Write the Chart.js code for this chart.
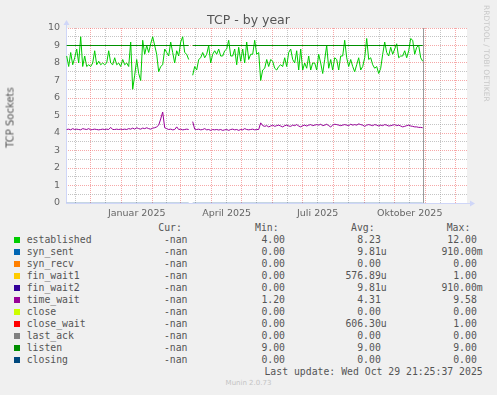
<!DOCTYPE html>
<html>
<head>
<meta charset="utf-8">
<script src="https://cdn.jsdelivr.net/npm/chart.js@4/dist/chart.umd.min.js"></script>
<style>
body { margin: 0; background: #f0f0f0; }
#wrap { position: relative; width: 497px; height: 395px; background: #f0f0f0; overflow: hidden; font-family: "DejaVu Sans"; }
#myChart { position: absolute; left: 0; top: 0; }
.t { position: absolute; white-space: pre; }
.mono { font-family: "DejaVu Sans Mono"; font-size: 9.8px; line-height: 12px; color: #555; }
.box { position: absolute; width: 6px; height: 6px; }
</style>
</head>
<body>
<div id="wrap">
  <canvas id="myChart" width="497" height="220"></canvas>
  <div class="t" id="title" style="left:0;width:497px;text-align:center;top:12px;font-size:12.5px;color:#555;">TCP - by year</div>
  <div class="t" style="left:-25px;top:112px;width:70px;text-align:center;font-size:10px;color:#555;transform:rotate(-90deg);">TCP Sockets</div>
  <div class="t" style="left:482px;top:5px;font-size:7.5px;color:#c8c8c8;writing-mode:vertical-rl;">RRDTOOL / TOBI OETIKER</div>
  <div id="legend"></div>
  <div class="t" style="left:0;width:497px;text-align:center;top:379px;font-size:7px;color:#c4c4c4;">Munin 2.0.73</div>
</div>
<script>
// Tage relativ zum 1. Jan 2025, ein Wert alle 2 Tage ab 7. Nov 2024
var firstDay = -55;
var dayStep = 2;

var established = [
  8.4, 7.8, 8.6, 7.9, 8.3, 8.8, 8.0, 9.5, 7.8, 8.4,
  7.8, 7.9, 7.8, 8.0, 8.7, 7.9, 8.1, 7.9, 8.0, 7.9,
  8.0, 8.7, 8.0, 7.9, 8.3, 7.9, 8.0, 7.8, 8.2, 7.9,
  8.0, 7.8, 9.2, 6.5, 7.3, 8.2, 7.4, 7.0, 9.3, 8.5,
  9.0, 8.6, 9.1, 9.5, 9.0, 8.5, 7.5, 7.8, 7.9, 8.8,
  8.6, 8.4, 9.2, 8.6, 8.0, 8.7, 8.4, 9.2, 9.5, 8.6,
  8.5, 8.2, null,
  7.3, 7.8, 7.6, 8.2, 8.3, 8.6, 8.3, 8.5, 9.0, 8.0,
  8.5, 8.7, 8.5, 8.8, 8.4, 8.4, 8.7, 8.8, 9.3, 8.4,
  8.4, 8.8, 7.9, 8.9, 8.1, 8.8, 8.0, 9.2, 8.2, 8.5,
  8.5, 9.3, 8.5, 8.6, 7.0, 7.6, 7.7, 8.2, 7.8, 8.2,
  8.1, 7.7, 7.6, 7.8, 7.9, 7.8, 8.3, 7.8, 8.6, 8.8,
  8.2, 8.0, 8.7, 7.6, 8.8, 7.6, 8.0, 7.7, 8.4, 7.6,
  8.0, 8.0, 7.6, 8.5, 8.0, 7.4, 8.2, 9.0, 7.7, 8.2,
  7.6, 8.3, 8.2, 7.6, 8.4, 8.4, 9.3, 8.3, 7.8, 8.2,
  7.8, 7.5, 7.9, 8.3, 7.6, 7.8, 8.3, 9.4, 8.2, 8.3,
  7.9, 7.7, 7.8, 7.4, 7.7, 8.5, 9.2, 8.6, 8.4, 8.9,
  8.5, 8.8, 9.1, 8.3, 8.4, 8.4, 8.7, 8.3, 8.7, 9.4,
  9.3, 8.5, 8.9, 9.0, 8.3, 8.1
];

var timeWait = [
  4.2, 4.22, 4.18, 4.25, 4.2, 4.22, 4.2, 4.18, 4.25, 4.22,
  4.2, 4.25, 4.18, 4.2, 4.22, 4.2, 4.18, 4.2, 4.22, 4.2,
  4.22, 4.2,
  4.32, 4.2, 4.2, 4.22, 4.2, 4.22, 4.2, 4.22, 4.2, 4.25,
  4.22, 4.28, 4.22, 4.3, 4.25, 4.22, 4.28, 4.25, 4.3, 4.25,
  4.22, 4.28, 4.3, 4.35, 4.45, 4.8, 5.2, 4.3, 4.25, 4.2,
  4.22, 4.18, 4.2, 4.35, 4.2, 4.22, 4.18, 4.2, 4.22, 4.2,
  null,
  4.65, 4.22, 4.2, 4.22, 4.18, 4.2, 4.25, 4.18, 4.2, 4.15,
  4.2, 4.18, 4.2, 4.17, 4.2, 4.15, 4.18, 4.2, 4.15, 4.2,
  4.22, 4.18, 4.2, 4.15, 4.2, 4.18, 4.25, 4.2, 4.18, 4.2,
  4.22, 4.18, 4.2, 4.2,
  4.58, 4.42, 4.38, 4.42, 4.35, 4.4, 4.45, 4.38, 4.42, 4.45,
  4.4, 4.35, 4.42, 4.45, 4.4, 4.38, 4.45, 4.42, 4.48, 4.4,
  4.35, 4.42, 4.45, 4.4, 4.45, 4.48, 4.42, 4.45, 4.48, 4.45,
  4.5, 4.42, 4.45, 4.5, 4.42, 4.35, 4.45, 4.5, 4.48, 4.45,
  4.42, 4.45, 4.48, 4.45, 4.42, 4.5, 4.45, 4.48, 4.45, 4.52,
  4.48, 4.45, 4.38, 4.45, 4.48, 4.45, 4.42, 4.48, 4.45, 4.4,
  4.45, 4.42, 4.48, 4.45, 4.4, 4.42, 4.45, 4.48, 4.42, 4.45,
  4.4, 4.35, 4.38, 4.42, 4.45, 4.4, 4.38, 4.35, 4.35, 4.32,
  4.32, 4.3
];

// konstante Reihen
var listenDays = [-55, 67, 69, 71, 301];
var listenVals = [9, 9, null, 9, 9];
var closingDays = [-55, 67, 69, 71, 301];
var closingVals = [0, 0, null, 0, 0];

var lastUpdateDay = 301.8;  // Wed Oct 29 21:25:37 2025

var monthStarts = [-31, 0, 31, 59, 90, 120, 151, 181, 212, 243, 273, 304, 334];
var midMonths = [-46, -16, 15, 45, 74, 105, 135, 166, 196, 227, 258, 288, 319];
var monthLabels = {15: 'Januar 2025', 105: 'April 2025', 196: 'Juli 2025', 288: 'Oktober 2025'};

// Legende
var seriesNames = ['established', 'syn_sent', 'syn_recv', 'fin_wait1', 'fin_wait2', 'time_wait', 'close', 'close_wait', 'last_ack', 'listen', 'closing'];
var seriesColors = ['#00cc00', '#0066b3', '#ff8000', '#ffcc00', '#330099', '#990099', '#ccff00', '#ff0000', '#808080', '#008f00', '#00487d'];
var curValues = ['-nan', '-nan', '-nan', '-nan', '-nan', '-nan', '-nan', '-nan', '-nan', '-nan', '-nan'];
var minValues = ['4.00', '0.00', '0.00', '0.00', '0.00', '1.20', '0.00', '0.00', '0.00', '9.00', '0.00'];
var avgValues = ['8.23 ', '9.81u', '0.00 ', '576.89u', '9.81u', '4.31 ', '0.00 ', '606.30u', '0.00 ', '9.00 ', '0.00 '];
var maxValues = ['12.00 ', '910.00m', '0.00 ', '1.00 ', '910.00m', '9.58 ', '0.00 ', '1.00 ', '0.00 ', '9.00 ', '0.00 '];
var lastUpdate = 'Last update: Wed Oct 29 21:25:37 2025';


function toPoints(vals) {
  var pts = [];
  for (var i = 0; i < vals.length; i++) {
    pts.push({x: firstDay + i * dayStep, y: vals[i]});
  }
  return pts;
}
function zipPoints(xs, ys) {
  var pts = [];
  for (var i = 0; i < xs.length; i++) pts.push({x: xs[i], y: ys[i]});
  return pts;
}

var mgridColor = 'rgba(240,110,110,0.6)';
var gridColor = 'rgba(150,150,150,0.55)';
var axisColor = '#cfd6f8';
var fontColor = '#666';

function crisp(p) { return Math.floor(p) + 0.5; }

var rrdPlugin = {
  id: 'rrd',
  beforeDraw: function (chart) {
    var a = chart.chartArea, ctx = chart.ctx;
    ctx.save();
    ctx.fillStyle = '#ffffff';
    ctx.fillRect(a.left, a.top, a.right - a.left, a.bottom - a.top);
    ctx.restore();
  },
  beforeDatasetsDraw: function (chart) {
    var a = chart.chartArea, ctx = chart.ctx;
    var xs = chart.scales.x, ys = chart.scales.y;
    ctx.save();
    ctx.lineWidth = 1;
    ctx.setLineDash([1, 1]);
    // gepunktetes Gitter
    function vline(v, col) {
      var px = crisp(xs.getPixelForValue(v));
      if (px < a.left || px > a.right) return;
      ctx.strokeStyle = col;
      ctx.beginPath(); ctx.moveTo(px, a.top); ctx.lineTo(px, a.bottom); ctx.stroke();
    }
    midMonths.forEach(function (v) { vline(v, gridColor); });
    monthStarts.forEach(function (v) { vline(v, mgridColor); });
    ys.ticks.forEach(function (t) {
      var py = crisp(ys.getPixelForValue(t.value));
      ctx.strokeStyle = (t.value % 1 === 0) ? mgridColor : gridColor;
      ctx.beginPath(); ctx.moveTo(a.left, py); ctx.lineTo(a.right, py); ctx.stroke();
    });
    ctx.setLineDash([]);

    var x0 = Math.round(a.left) + 0.5, y0 = Math.round(a.bottom) + 0.5;
    ctx.strokeStyle = axisColor;
    ctx.fillStyle = axisColor;
    ctx.beginPath();
    ctx.moveTo(x0, y0); ctx.lineTo(x0, a.top - 3);
    ctx.moveTo(x0 - 0.5, y0); ctx.lineTo(a.right + 3, y0);
    ctx.stroke();
    // Pfeile
    ctx.beginPath();
    ctx.moveTo(x0 - 3, a.top - 3); ctx.lineTo(x0 + 3, a.top - 3); ctx.lineTo(x0, a.top - 8); ctx.closePath();
    ctx.fill();
    ctx.beginPath();
    ctx.moveTo(a.right + 3, y0 - 3); ctx.lineTo(a.right + 3, y0 + 3); ctx.lineTo(a.right + 8, y0); ctx.closePath();
    ctx.fill();
    ctx.restore();
  }
};

var chart = new Chart('myChart', {
  type: 'line',
  data: {
    datasets: [{
      label: 'established',
      data: toPoints(established),
      borderColor: '#00cc00',
      borderWidth: 1,
      order: 11
    }, {
      label: 'time_wait',
      data: toPoints(timeWait),
      borderColor: '#990099',
      borderWidth: 1,
      order: 6
    }, {
      label: 'listen',
      data: zipPoints(listenDays, listenVals),
      borderColor: '#008f00',
      borderWidth: 1,
      order: 2
    }, {
      label: 'closing',
      data: zipPoints(closingDays, closingVals),
      borderColor: 'rgba(0,72,125,0.45)',
      borderWidth: 1,
      order: 1
    }, {
      label: 'last update',
      data: [{x: lastUpdateDay, y: 0}, {x: lastUpdateDay, y: 10}],
      borderColor: '#9a9a9a',
      borderWidth: 1,
      order: 0
    }]
  },
  options: {
    responsive: false,
    animation: false,
    events: [],
    spanGaps: false,
    elements: {point: {radius: 0}, line: {tension: 0}},
    layout: {padding: {top: 28, right: 30, left: 0, bottom: 0}},
    plugins: {legend: {display: false}, tooltip: {enabled: false}, title: {display: false}},
    scales: {
      x: {
        type: 'linear',
        min: -55.7,
        max: 345.3,
        afterFit: function (s) { s.height = 17; },
        afterBuildTicks: function (s) {
          var t = [];
          midMonths.forEach(function (v) { t.push({value: v}); });
          s.ticks = t;
        },
        ticks: {
          autoSkip: false, maxRotation: 0, padding: 5,
          color: fontColor, font: {family: 'DejaVu Sans', size: 9.5},
          callback: function (v) { return monthLabels[v] || ''; }
        },
        grid: {display: false, drawTicks: false},
        border: {display: false}
      },
      y: {
        min: 0,
        max: 10,
        afterFit: function (s) { s.width = 66; },
        ticks: {
          stepSize: 0.5, autoSkip: false, padding: 6,
          color: fontColor, font: {family: 'DejaVu Sans', size: 9.5},
          callback: function (v) { return v % 1 === 0 ? v : ''; }
        },
        grid: {display: false, drawTicks: false},
        border: {display: false}
      }
    }
  },
  plugins: [rrdPlugin]
});

// Legende als Text
var legend = document.getElementById('legend');
function addText(txt, left, right, y) {
  var d = document.createElement('div');
  d.className = 't mono';
  d.textContent = txt;
  d.style.top = y + 'px';
  if (left != null) d.style.left = left + 'px';
  if (right != null) { d.style.right = (497 - right) + 'px'; d.style.textAlign = 'right'; }
  legend.appendChild(d);
}
var rowTop = 233.8;
var rowH = 12;
addText('Cur:', 158.3, null, rowTop - rowH);
addText('Min:', 255, null, rowTop - rowH);
addText('Avg:', 351, null, rowTop - rowH);
addText('Max:', 446.7, null, rowTop - rowH);
for (var i = 0; i < seriesNames.length; i++) {
  var rowY = rowTop + i * rowH;
  var b = document.createElement('div');
  b.className = 'box';
  b.style.left = '14px';
  b.style.top = (rowY + 3) + 'px';
  b.style.background = seriesColors[i];
  legend.appendChild(b);
  addText(seriesNames[i], 26.7, null, rowY);
  addText(curValues[i], null, 187.5, rowY);
  addText(minValues[i], null, 285, rowY);
  addText(avgValues[i], null, 386.7, rowY);
  addText(maxValues[i], null, 482.7, rowY);
}
addText(lastUpdate, null, 482.7, rowTop + seriesNames.length * rowH);
</script>
</body>
</html>
